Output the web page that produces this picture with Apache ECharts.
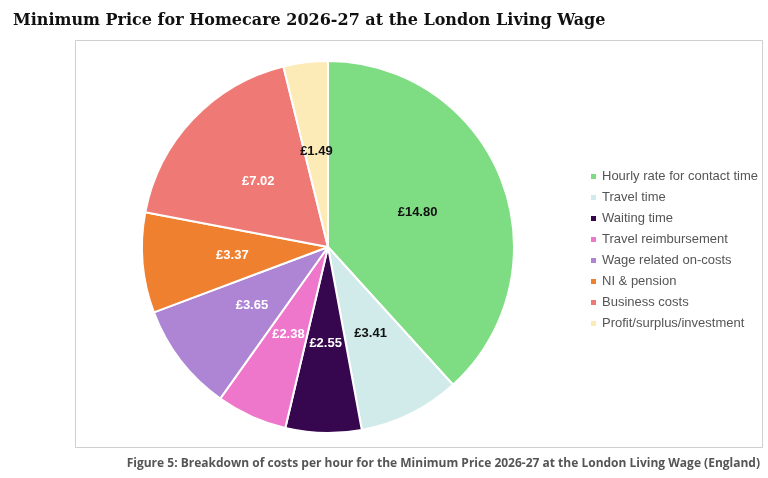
<!DOCTYPE html>
<html>
<head>
<meta charset="utf-8">
<script src="https://cdn.jsdelivr.net/npm/echarts@6/dist/echarts.min.js"></script>
<style>
  html, body { margin: 0; padding: 0; background: #fff; }
  #chart { width: 768px; height: 478px; }
</style>
</head>
<body>
<div id="chart"></div>
<script>
const categories = ['Hourly rate for contact time', 'Travel time', 'Waiting time', 'Travel reimbursement',
  'Wage related on-costs', 'NI & pension', 'Business costs', 'Profit/surplus/investment'];
const values = [14.80, 3.41, 2.55, 2.38, 3.65, 3.37, 7.02, 1.49];
const colors = ['#7edc82', '#d1eaea', '#36064f', '#ee77cc', '#ad85d4', '#ee8030', '#ef7a75', '#fcebb7'];
const darkLabel = [true, true, false, false, false, false, false, true];

const chart = echarts.init(document.getElementById('chart'));
chart.setOption({
  animation: false,
  title: {
    text: 'Minimum Price for Homecare 2026-27 at the London Living Wage',
    left: 8, top: 8,
    textStyle: { fontFamily: 'DejaVu Serif', fontSize: 16, fontWeight: 'bold', color: '#111' }
  },
  graphic: [
    { type: 'rect', shape: { x: 75.5, y: 40.5, width: 687, height: 407 },
      style: { fill: 'none', stroke: '#cfcfcf', lineWidth: 1 } },
    { type: 'text', right: 8, top: 458,
      style: { text: 'Figure 5: Breakdown of costs per hour for the Minimum Price 2026-27 at the London Living Wage (England)',
        font: 'bold 12px "Open Sans", sans-serif', fill: '#555' } }
  ],
  legend: {
    orient: 'vertical', left: 584, top: 165,
    icon: 'rect', itemWidth: 7, itemHeight: 7, itemGap: 8,
    textStyle: { fontFamily: 'Liberation Sans', fontSize: 13, color: '#555' },
    data: categories
  },
  series: [{
    type: 'pie',
    center: [328, 247], radius: 186,
    startAngle: 90, clockwise: true,
    itemStyle: { borderColor: '#fff', borderWidth: 2 },
    label: { show: true, position: 'inside', fontFamily: 'Liberation Sans', fontSize: 13, fontWeight: 'bold',
      formatter: p => '£' + p.value.toFixed(2) },
    labelLine: { show: false },
    data: categories.map((c, i) => ({
      name: c, value: values[i],
      itemStyle: { color: colors[i] },
      label: { color: darkLabel[i] ? '#111' : '#fff' }
    }))
  }]
});
</script>
</body>
</html>
